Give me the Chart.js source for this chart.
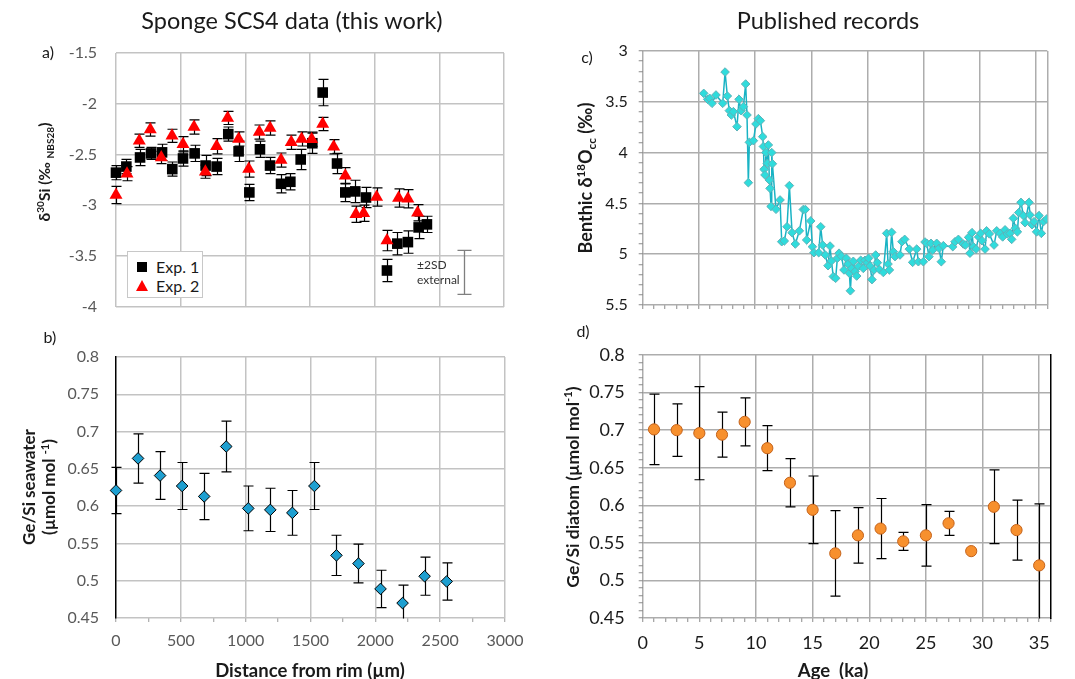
<!DOCTYPE html>
<html><head><meta charset="utf-8">
<script src="https://cdn.jsdelivr.net/npm/chart.js@4.4.1/dist/chart.umd.min.js"></script>
<style>
html,body{margin:0;padding:0;background:#fff;}
body{width:1075px;height:679px;position:relative;overflow:hidden;font-family:Lato,'Open Sans',sans-serif;color:#1a1a1a;}
canvas{position:absolute;left:0;top:0;}
.lbl{position:absolute;white-space:nowrap;transform:translate(-50%,-50%);z-index:5;line-height:1.2;}
.rot{position:absolute;white-space:nowrap;transform:translate(-50%,-50%) rotate(-90deg);font-weight:bold;z-index:5;text-align:center;line-height:1.15;}
sup,sub{font-size:65%;line-height:0;}
.leg{position:absolute;background:#fff;border:1px solid #c8c8c8;box-sizing:border-box;z-index:6;}
.leg span{position:absolute;white-space:nowrap;font-size:16px;line-height:20px;}
</style></head><body>
<canvas id="chartA" width="1075" height="679"></canvas>
<canvas id="chartB" width="1075" height="679"></canvas>
<canvas id="chartC" width="1075" height="679"></canvas>
<canvas id="chartD" width="1075" height="679"></canvas>

<div class="lbl" style="left:292px;top:20px;font-size:23.5px;">Sponge SCS4 data (this work)</div>
<div class="lbl" style="left:828px;top:20px;font-size:23.5px;">Published records</div>
<div class="lbl" style="left:48px;top:52px;font-size:16px;">a)</div>
<div class="lbl" style="left:50px;top:337px;font-size:16px;">b)</div>
<div class="lbl" style="left:587px;top:57px;font-size:16px;">c)</div>
<div class="lbl" style="left:583px;top:331px;font-size:16px;">d)</div>

<div class="rot" style="left:45px;top:172px;font-size:15.5px;">δ<sup>30</sup>Si (‰ <sub>NBS28</sub>)</div>
<div class="rot" style="left:39px;top:487px;font-size:17px;">Ge/Si seawater<br>(µmol mol <sup>-1</sup>)</div>
<div class="rot" style="left:585px;top:178px;font-size:18px;">Benthic δ<sup>18</sup>O<sub>cc</sub> (‰)</div>
<div class="rot" style="left:573px;top:487px;font-size:17.5px;">Ge/Si diatom (µmol mol<sup>-1</sup>)</div>
<div class="lbl" style="left:310px;top:670px;font-size:18.5px;font-weight:bold;">Distance from rim (µm)</div>
<div class="lbl" style="left:833px;top:670px;font-size:18.5px;font-weight:bold;">Age&nbsp; (ka)</div>

<div style="position:absolute;left:417px;top:258px;font-size:12px;line-height:14.5px;color:#333;z-index:5;">±2SD<br>external</div>
<div id="legendA" class="leg" style="left:127px;top:251px;width:76px;height:47px;"></div>

<script>
// ---------------- Panel a: δ30Si sponge SCS4 ----------------
const exp1Distance = [0,80,186,271,356,435,518,608,693,778,868,948,1031,1113,1191,1276,1348,1428,1518,1598,1709,1773,1850,1933,2095,2175,2257,2340,2404];
const exp1D30Si    = [-2.68,-2.62,-2.53,-2.49,-2.48,-2.645,-2.54,-2.49,-2.61,-2.62,-2.30,-2.47,-2.875,-2.45,-2.61,-2.79,-2.77,-2.55,-2.39,-1.89,-2.59,-2.875,-2.865,-2.925,-3.645,-3.38,-3.365,-3.22,-3.19];
const exp1Err      = [0.07,0.07,0.08,0.06,0.08,0.07,0.075,0.08,0.1,0.08,0.07,0.1,0.08,0.08,0.08,0.09,0.08,0.1,0.1,0.13,0.1,0.09,0.11,0.1,0.11,0.11,0.11,0.11,0.08];
const exp2Distance = [0,85,180,265,350,433,518,603,691,778,863,948,1026,1108,1191,1276,1355,1435,1513,1598,1683,1773,1855,1915,2015,2095,2185,2257,2332];
const exp2D30Si    = [-2.90,-2.69,-2.366,-2.255,-2.53,-2.317,-2.40,-2.23,-2.67,-2.42,-2.14,-2.347,-2.645,-2.28,-2.24,-2.556,-2.38,-2.347,-2.35,-2.20,-2.425,-2.71,-3.09,-3.08,-2.92,-3.35,-2.93,-2.937,-3.075];
const exp2Err      = [0.085,0.07,0.065,0.065,0.06,0.065,0.075,0.07,0.065,0.075,0.065,0.07,0.08,0.07,0.07,0.07,0.07,0.07,0.07,0.065,0.07,0.08,0.08,0.08,0.09,0.1,0.09,0.09,0.08];
const sd2Distance  = [2690];
const sd2Center    = [-3.663];
const sd2Err       = [0.217];
const seriesNamesA = ['Exp. 1','Exp. 2'];
const yTicksA = {min:-4, max:-1.5, step:0.5};
const xTicksAB = {min:0, max:3000, step:500, minor:250};

// ---------------- Panel b: Ge/Si seawater ----------------
const geSiDistance = [0,170,340,510,680,850,1020,1190,1360,1530,1700,1870,2040,2210,2380,2550];
const geSiSeawater = [0.621,0.664,0.641,0.627,0.613,0.680,0.597,0.595,0.591,0.627,0.534,0.523,0.489,0.470,0.506,0.499];
const geSiSeaErr   = [0.031,0.033,0.032,0.0315,0.031,0.034,0.030,0.029,0.030,0.0315,0.027,0.026,0.025,0.024,0.0255,0.025];
const yTicksB = {min:0.45, max:0.8, step:0.05};

// ---------------- Panel c: benthic δ18O ----------------
const benthicAge = [5.43,5.78,5.96,6.17,6.52,7.12,7.33,7.53,7.71,7.89,8.07,8.39,8.57,8.75,8.96,9.16,9.28,9.40,9.49,9.85,10.08,10.29,10.47,10.68,10.74,10.80,10.88,10.97,11.09,11.18,11.27,11.33,11.42,11.48,11.54,11.86,12.22,12.37,12.6,12.84,13.05,13.29,13.58,13.94,14.29,14.47,14.59,14.95,15.1,15.24,15.66,15.84,16.01,16.25,16.49,16.67,16.79,16.96,17.17,17.32,17.47,17.68,17.91,18.12,18.27,18.39,18.48,18.59,18.74,18.89,19.04,19.19,19.4,19.63,19.78,19.99,20.1,20.23,20.4,20.58,20.73,20.88,21.06,21.41,21.71,21.83,21.95,22.15,22.3,22.45,22.89,23.07,23.31,23.72,24.02,24.38,24.53,24.97,25.12,25.27,25.47,25.65,25.8,26.16,26.37,26.57,26.75,27.59,27.79,28.09,28.53,28.71,29.0,29.12,29.3,29.42,29.66,29.89,30.07,30.19,30.46,30.6,30.84,31.26,31.5,31.8,32.03,32.24,32.44,32.68,32.83,32.98,33.16,33.34,33.46,33.66,33.87,34.02,34.37,34.46,34.64,34.82,35.05,35.26,35.47,35.65,35.94];
const benthicD18O = [3.417,3.476,3.466,3.515,3.433,3.515,3.207,3.443,3.587,3.63,3.597,3.745,3.476,3.587,3.548,3.325,3.63,4.296,3.899,3.883,3.718,3.666,3.686,3.843,3.94,4.165,4.22,4.0,4.106,3.925,4.27,4.352,4.53,4.0,4.11,4.558,4.466,4.877,4.87,4.73,4.325,4.788,4.9,4.77,4.56,4.56,4.86,4.673,4.926,4.985,4.985,4.73,4.91,5.008,5.113,4.92,5.067,5.22,5.237,5.04,4.99,5.02,5.155,5.04,5.096,5.188,5.36,5.14,5.07,5.17,5.215,5.12,5.06,5.14,5.06,5.083,5.04,5.116,5.25,5.155,5.008,5.083,5.15,5.18,4.795,5.097,5.155,4.785,4.975,5.024,5.008,4.877,4.854,4.95,5.08,4.95,5.074,5.074,4.88,4.893,5.024,4.893,4.96,4.893,4.942,5.074,4.916,4.926,4.877,4.854,4.9,4.91,4.834,4.99,4.788,4.926,4.95,4.83,4.795,4.867,4.95,4.77,4.8,4.91,4.77,4.795,4.83,4.76,4.8,4.795,4.854,4.647,4.745,4.78,4.59,4.49,4.62,4.69,4.49,4.614,4.71,4.68,4.78,4.62,4.795,4.68,4.654];
const yTicksC = {min:3, max:5.5, step:0.5, minor:0.1};
const xTicksCD = {min:0, max:36, step:5, minor:1};

// ---------------- Panel d: Ge/Si diatom ----------------
const diatomAge  = [1,3,5,7,9,11,13,15,17,19,21,23,25,27,29,31,33,35];
const geSiDiatom = [0.701,0.700,0.696,0.694,0.711,0.676,0.630,0.594,0.536,0.560,0.569,0.552,0.560,0.576,0.539,0.598,0.567,0.520];
const geSiDiaErr = [0.047,0.035,0.062,0.030,0.032,0.030,0.032,0.045,0.057,0.037,0.040,0.012,0.041,0.016,0,0.049,0.040,0.082];
const yTicksD = {min:0.45, max:0.8, step:0.05, minor:0.01};

// ---------------- helpers ----------------
const W = 1075, H = 679;
const Y_AXIS_W = 70, X_AXIS_H = 40;
const isMult = (v, s) => Math.abs(v / s - Math.round(v / s)) < 1e-6;
const fmt = v => String(Number(v.toFixed(3)));
const pts = (xs, ys) => xs.map((x, i) => ({x, y: ys[i]}));
// chart area (l,t,r,b) -> layout padding, accounting for fixed axis sizes
const areaPad = (l, t, r, b, hasX) => ({left: l - Y_AXIS_W, top: t, right: W - r, bottom: H - b - (hasX ? X_AXIS_H : 0)});
const fixYW = s => { s.width = Y_AXIS_W; };
const fixXH = s => { s.height = X_AXIS_H; };
const noWidth = s => { s.width = 0; };
const noHeight = s => { s.height = 0; };

const errorBars = {
  id: 'errorBars',
  beforeDatasetsDraw(chart) {
    const {ctx, chartArea: a, scales: {x, y}} = chart;
    ctx.save();
    ctx.beginPath();
    ctx.rect(a.left - 30, a.top - 1, a.right - a.left + 60, a.bottom - a.top + 1.5);
    ctx.clip();
    chart.data.datasets.forEach(ds => {
      if (!ds.errors) return;
      ctx.strokeStyle = ds.errorColor || '#000';
      ctx.lineWidth = ds.errorWidth || 1.2;
      const cap = ds.capHalf || 5;
      ds.data.forEach((p, j) => {
        const e = ds.errors[j];
        if (!e) return;
        const px = Math.round(x.getPixelForValue(p.x)) + 0.5;
        const y1 = y.getPixelForValue(p.y + e), y2 = y.getPixelForValue(p.y - e);
        ctx.beginPath();
        ctx.moveTo(px, y1); ctx.lineTo(px, y2);
        ctx.moveTo(px - cap, y1); ctx.lineTo(px + cap, y1);
        ctx.moveTo(px - cap, y2); ctx.lineTo(px + cap, y2);
        ctx.stroke();
      });
    });
    ctx.restore();
  }
};

const base = (pad) => ({
  responsive: false, animation: false, events: [],
  layout: {padding: pad},
  plugins: {legend: {display: false}, tooltip: {enabled: false}}
});

// ---------------- Chart a ----------------
const gridAB = '#c3c3c3';
new Chart(document.getElementById('chartA'), {
  type: 'scatter',
  data: {datasets: [
    {label: seriesNamesA[1], order: 0, data: pts(exp2Distance, exp2D30Si), errors: exp2Err,
     pointStyle: 'triangle', pointRadius: 7.5, backgroundColor: '#ff0000', borderColor: '#ff0000', borderWidth: 0, clip: false},
    {label: seriesNamesA[0], order: 1, data: pts(exp1Distance, exp1D30Si), errors: exp1Err,
     pointStyle: 'rect', pointRadius: 7.5, backgroundColor: '#000', borderColor: '#000', borderWidth: 0, clip: false},
    {label: '±2SD external', order: 2, data: pts(sd2Distance, sd2Center), errors: sd2Err,
     pointRadius: 0, errorColor: '#7f7f7f', errorWidth: 1.3, capHalf: 7, clip: false}
  ]},
  options: Object.assign(base(areaPad(116, 53, 504, 306.5, false)), {
    scales: {
      x: {type: 'linear', min: xTicksAB.min, max: xTicksAB.max, afterFit: noHeight,
          ticks: {display: false, stepSize: xTicksAB.step},
          grid: {color: gridAB, lineWidth: 1.5, drawTicks: false}, border: {display: false}},
      y: {min: yTicksA.min, max: yTicksA.max, afterFit: fixYW,
          ticks: {stepSize: yTicksA.step, color: '#595959', font: {family: 'Lato', size: 16}, padding: 19, callback: v => fmt(v)},
          grid: {color: gridAB, lineWidth: 1.5, drawTicks: false}, border: {display: false}}
    }
  }),
  plugins: [errorBars]
});

// legend for panel a
(function () {
  const leg = document.getElementById('legendA');
  const marks = [
    '<div style="position:absolute;left:9px;top:9.5px;width:10px;height:10px;background:#000"></div>',
    '<div style="position:absolute;left:7.5px;top:28px;width:0;height:0;border-left:6.5px solid transparent;border-right:6.5px solid transparent;border-bottom:11px solid #ff0000"></div>'
  ];
  seriesNamesA.forEach((n, i) => {
    leg.innerHTML += marks[i] + '<span style="left:28px;top:' + (4.5 + i * 19.5) + 'px">' + n + '</span>';
  });
})();

// ---------------- Chart b ----------------
new Chart(document.getElementById('chartB'), {
  type: 'scatter',
  data: {datasets: [
    {label: 'Ge/Si seawater', data: pts(geSiDistance, geSiSeawater), errors: geSiSeaErr,
     pointStyle: 'rectRot', pointRadius: 5.8, backgroundColor: '#1e9fd0', borderColor: '#000', borderWidth: 1, clip: false}
  ]},
  options: Object.assign(base(areaPad(116, 357, 505, 618, true)), {
    scales: {
      x: {type: 'linear', min: xTicksAB.min, max: xTicksAB.max, afterFit: fixXH,
          ticks: {stepSize: xTicksAB.minor, autoSkip: false, maxRotation: 0, color: '#595959', font: {family: 'Lato', size: 16}, padding: 9,
                  callback: v => isMult(v, xTicksAB.step) ? fmt(v) : ''},
          grid: {color: c => (c.tick && isMult(c.tick.value, xTicksAB.step) && c.tick.value !== 0) ? gridAB : 'rgba(0,0,0,0)',
                 lineWidth: 1.5, tickColor: '#9a9a9a', tickWidth: 1, tickLength: 4}, border: {display: false}},
      y: {min: yTicksB.min, max: yTicksB.max, afterFit: fixYW,
          ticks: {stepSize: yTicksB.step, color: '#595959', font: {family: 'Lato', size: 16}, padding: 17, callback: v => fmt(v)},
          grid: {color: gridAB, lineWidth: 1.5, drawTicks: false}, border: {display: true, color: '#000', width: 1.5}}
    }
  }),
  plugins: [errorBars]
});

// ---------------- Chart c ----------------
const gridCD = '#adadad';
new Chart(document.getElementById('chartC'), {
  type: 'scatter',
  data: {datasets: [
    {label: 'Benthic d18O', data: pts(benthicAge, benthicD18O), showLine: true,
     borderColor: '#19b3c4', borderWidth: 1.5, pointStyle: 'rectRot', pointRadius: 4.3,
     pointBackgroundColor: '#2fdcdc', pointBorderColor: '#5fb2b8', pointBorderWidth: 1}
  ]},
  options: Object.assign(base(areaPad(642.7, 51, 1047.3, 305, false)), {
    scales: {
      x: {type: 'linear', min: xTicksCD.min, max: xTicksCD.max, afterFit: noHeight,
          ticks: {display: false, stepSize: xTicksCD.minor, autoSkip: false},
          grid: {color: c => (c.tick && (isMult(c.tick.value, xTicksCD.step) || c.tick.value === xTicksCD.max)) ? gridCD : 'rgba(0,0,0,0)',
                 lineWidth: 1.5, tickColor: '#8a8a8a', tickWidth: 1, tickLength: 4}, border: {display: false}},
      y: {reverse: true, min: yTicksC.min, max: yTicksC.max, afterFit: fixYW,
          ticks: {stepSize: yTicksC.minor, autoSkip: false, color: '#1a1a1a', font: {family: 'Lato', size: 16}, padding: 11,
                  callback: v => isMult(v, yTicksC.step) ? fmt(v) : ''},
          grid: {color: c => (c.tick && isMult(c.tick.value, yTicksC.step)) ? gridCD : 'rgba(0,0,0,0)',
                 lineWidth: 1.5, tickColor: '#8a8a8a', tickWidth: 1, tickLength: 4}, border: {display: false}}
    }
  })
});

// ---------------- Chart d ----------------
new Chart(document.getElementById('chartD'), {
  type: 'scatter',
  data: {datasets: [
    {label: 'Ge/Si diatom', data: pts(diatomAge, geSiDiatom), errors: geSiDiaErr,
     pointStyle: 'circle', pointRadius: 5.6, backgroundColor: '#f7902e', borderColor: '#c4621a', borderWidth: 1, clip: false}
  ]},
  options: Object.assign(base(areaPad(642.7, 355, 1050.5, 618, true)), {
    scales: {
      x: {type: 'linear', min: xTicksCD.min, max: xTicksCD.max, afterFit: fixXH,
          ticks: {stepSize: xTicksCD.minor, autoSkip: false, maxRotation: 0, color: '#1a1a1a', font: {family: 'Lato', size: 18}, padding: 10,
                  callback: v => isMult(v, xTicksCD.step) ? fmt(v) : ''},
          grid: {color: c => (c.tick && isMult(c.tick.value, xTicksCD.step)) ? gridCD : 'rgba(0,0,0,0)',
                 lineWidth: 1.5, tickColor: '#8a8a8a', tickWidth: 1, tickLength: 4}, border: {display: false}},
      y: {min: yTicksD.min, max: yTicksD.max, afterFit: fixYW,
          ticks: {stepSize: yTicksD.minor, autoSkip: false, color: '#1a1a1a', font: {family: 'Lato', size: 18}, padding: 14,
                  callback: v => isMult(v, yTicksD.step) ? fmt(v) : ''},
          grid: {color: c => (c.tick && isMult(c.tick.value, yTicksD.step)) ? gridCD : 'rgba(0,0,0,0)',
                 lineWidth: 1.5, tickColor: '#8a8a8a', tickWidth: 1, tickLength: 4}, border: {display: false}},
      y2: {position: 'right', min: yTicksD.min, max: yTicksD.max, afterFit: noWidth,
           ticks: {display: false}, grid: {drawOnChartArea: false, drawTicks: false}, border: {display: true, color: '#000', width: 1.5}}
    }
  }),
  plugins: [errorBars]
});
</script>
</body></html>
